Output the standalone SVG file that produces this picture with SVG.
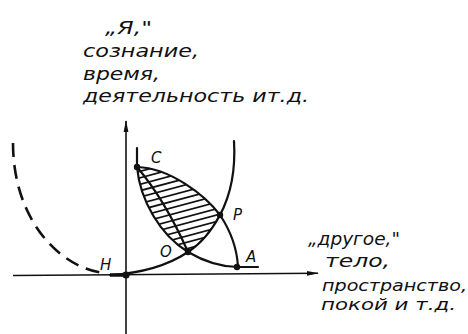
<svg xmlns="http://www.w3.org/2000/svg" width="468" height="334" viewBox="0 0 468 334">
  <style>
    .ln { fill: none; stroke: #111; stroke-width: 2.2; stroke-linecap: round; }
    .ax { fill: none; stroke: #111; stroke-width: 1.6; }
    .dash { fill: none; stroke: #111; stroke-width: 2.6; stroke-dasharray: 14 8; }
    .hatch { stroke: #111; stroke-width: 1.7; }
    .dot { fill: #111; }
    .lbl { font-family: "DejaVu Sans", "Liberation Sans", sans-serif; font-style: italic; font-size: 15px; fill: #111; }
    .txt { font-family: "DejaVu Sans", "Liberation Sans", sans-serif; font-style: italic; font-size: 17px; fill: #111; }
    .sm { font-size: 15px; }
  </style>
  <defs>
    <marker id="arr" viewBox="0 0 12 6" refX="11" refY="3" markerWidth="12" markerHeight="6" markerUnits="userSpaceOnUse" orient="auto">
      <path d="M0,0.6 L12,3 L0,5.4 Z" fill="#111"/>
    </marker>
    <clipPath id="lens">
      <path d="M137,167 C170,168 205,195 220,215 C212,230 202,243 188,252 C160,235 140,200 137,167 Z"/>
    </clipPath>
  </defs>

  <g id="connectors">
    <line class="ax" x1="126" y1="334" x2="126" y2="121" marker-end="url(#arr)"/>
    <line class="ax" x1="13" y1="275.5" x2="318" y2="273.3" marker-end="url(#arr)"/>
    <line x1="110" y1="275" x2="128" y2="275" stroke="#111" stroke-width="3.5"/>
    <path class="dash" d="M13,143 C13,220 60,268 104,273"/>
    <path class="ln" d="M234,141 C236,175 228,200 220,215 C212,230 202,243 188,252 C170,264 145,273 110,275"/>
    <path class="ln" d="M137,148 L137,167 C140,200 160,235 188,252 C205,262 222,267 238,267 L258,267"/>
    <path class="ln" d="M137,167 C170,168 205,195 220,215 C230,230 237,248 238,267"/>
    <path class="ln" d="M137,167 Q165,200 188,252"/>
    <g clip-path="url(#lens)">
      <g transform="rotate(-15 180 210)">
        <line class="hatch" x1="90" y1="150" x2="270" y2="150"/>
        <line class="hatch" x1="90" y1="156.2" x2="270" y2="156.2"/>
        <line class="hatch" x1="90" y1="162.4" x2="270" y2="162.4"/>
        <line class="hatch" x1="90" y1="168.6" x2="270" y2="168.6"/>
        <line class="hatch" x1="90" y1="174.8" x2="270" y2="174.8"/>
        <line class="hatch" x1="90" y1="181" x2="270" y2="181"/>
        <line class="hatch" x1="90" y1="187.2" x2="270" y2="187.2"/>
        <line class="hatch" x1="90" y1="193.4" x2="270" y2="193.4"/>
        <line class="hatch" x1="90" y1="199.6" x2="270" y2="199.6"/>
        <line class="hatch" x1="90" y1="205.8" x2="270" y2="205.8"/>
        <line class="hatch" x1="90" y1="212" x2="270" y2="212"/>
        <line class="hatch" x1="90" y1="218.2" x2="270" y2="218.2"/>
        <line class="hatch" x1="90" y1="224.4" x2="270" y2="224.4"/>
        <line class="hatch" x1="90" y1="230.6" x2="270" y2="230.6"/>
        <line class="hatch" x1="90" y1="236.8" x2="270" y2="236.8"/>
        <line class="hatch" x1="90" y1="243" x2="270" y2="243"/>
        <line class="hatch" x1="90" y1="249.2" x2="270" y2="249.2"/>
        <line class="hatch" x1="90" y1="255.4" x2="270" y2="255.4"/>
        <line class="hatch" x1="90" y1="261.6" x2="270" y2="261.6"/>
        <line class="hatch" x1="90" y1="267.8" x2="270" y2="267.8"/>
      </g>
    </g>
  </g>

  <g id="node-C">
    <circle class="dot" cx="137" cy="167" r="3.2"/>
    <text class="lbl" x="151" y="163">C</text>
  </g>
  <g id="node-P">
    <circle class="dot" cx="220" cy="215" r="3.2"/>
    <text class="lbl" x="233" y="220">P</text>
  </g>
  <g id="node-O">
    <circle class="dot" cx="188" cy="252" r="3.2"/>
    <text class="lbl" x="160" y="257">O</text>
  </g>
  <g id="node-A">
    <circle class="dot" cx="237" cy="267" r="3.2"/>
    <text class="lbl" x="246" y="262">A</text>
  </g>
  <g id="node-H">
    <circle class="dot" cx="126" cy="275" r="3.6"/>
    <text class="lbl" x="100" y="270">H</text>
  </g>

  <g id="label-self">
    <text class="txt" x="105" y="34" textLength="47" lengthAdjust="spacingAndGlyphs">„Я,"</text>
    <text class="txt" x="83" y="57" textLength="116" lengthAdjust="spacingAndGlyphs">сознание,</text>
    <text class="txt" x="83" y="80" textLength="77" lengthAdjust="spacingAndGlyphs">время,</text>
    <text class="txt" x="83" y="102" textLength="226" lengthAdjust="spacingAndGlyphs">деятельность ит.д.</text>
  </g>

  <g id="label-other">
    <text class="txt" x="308" y="245" textLength="92" lengthAdjust="spacingAndGlyphs">„другое,"</text>
    <text class="txt" x="325" y="267" textLength="65" lengthAdjust="spacingAndGlyphs">тело,</text>
    <text class="txt sm" x="322" y="291" textLength="145" lengthAdjust="spacingAndGlyphs">пространство,</text>
    <text class="txt sm" x="321" y="310" textLength="135" lengthAdjust="spacingAndGlyphs">покой и т.д.</text>
  </g>
</svg>
